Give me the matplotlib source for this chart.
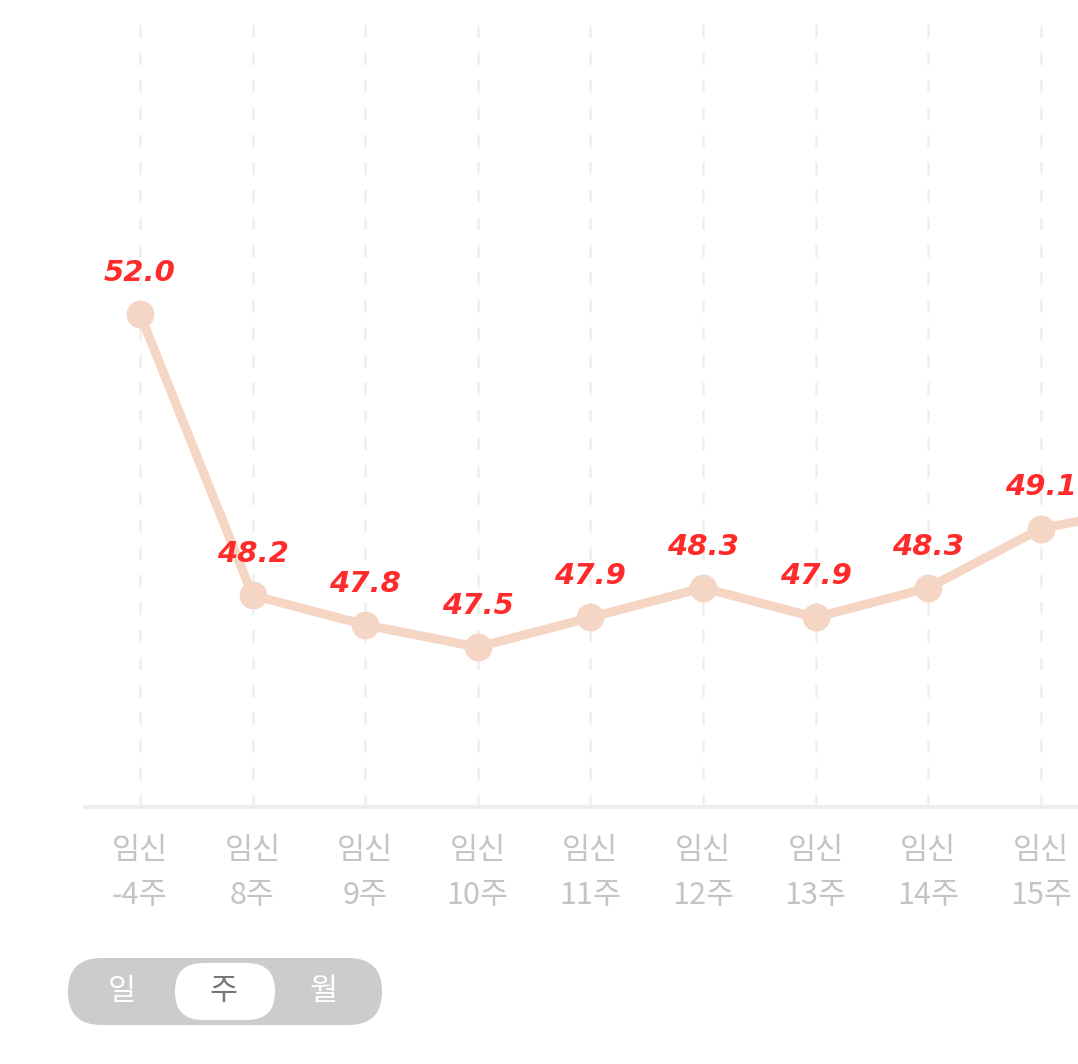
import matplotlib.pyplot as plt
from matplotlib.patches import FancyBboxPatch

plt.rcParams['font.family'] = ['Noto Sans CJK KR', 'DejaVu Sans']

weeks = ['-4주', '8주', '9주', '10주', '11주', '12주', '13주', '14주', '15주']
values = [52.0, 48.2, 47.8, 47.5, 47.9, 48.3, 47.9, 48.3, 49.1, 49.4]
shown_labels = ['52.0', '48.2', '47.8', '47.5', '47.9', '48.3', '47.9', '48.3', '49.1', '']

W, H = 1078, 1064
fig = plt.figure(figsize=(W / 100, H / 100), dpi=100)
ax = fig.add_axes([85 / W, (H - 807) / H, (W - 85) / W, (807 - 20) / H])

x = list(range(len(values)))
ax.plot(x, values, color='#f5d5c4', lw=6.5, marker='o', ms=19, zorder=3, clip_on=True)
for i, (v, t) in enumerate(zip(values, shown_labels)):
    if t:
        ax.annotate(t, (i, v), xytext=(0, 24), textcoords='offset points', ha='center',
                    color='#ff2a2a', fontsize=21, fontweight='bold', fontstyle='italic',
                    family='DejaVu Sans')

for i in range(len(weeks)):
    ax.axvline(i, color='#eeeeee', lw=1.8, ls=(0, (5, 6)), ymax=1, zorder=1)

ax.set_xticks(range(len(weeks)))
ax.set_xticklabels(['임신\n' + w for w in weeks], color='#c4c4c4', fontsize=22, linespacing=1.6)
ax.tick_params(axis='x', length=0, pad=20)
ax.set_xlim(-0.488, 8.33)
ax.set_ylim(45.34, 55.97)
ax.set_yticks([])
for s in ['top', 'right', 'left']:
    ax.spines[s].set_visible(False)
ax.spines['bottom'].set_color('#eeeeee')
ax.spines['bottom'].set_linewidth(3)

# period toggle
def fx(px):
    return px / W

def fy(py):
    return 1 - py / H

fig.patches.append(FancyBboxPatch((fx(68), fy(1025)), fx(382) - fx(68), fy(958) - fy(1025),
                                  boxstyle='round,pad=0,rounding_size=0.031', transform=fig.transFigure,
                                  fc='#cccccc', ec='none', mutation_aspect=1))
fig.patches.append(FancyBboxPatch((fx(175), fy(1020)), fx(275) - fx(175), fy(963) - fy(1020),
                                  boxstyle='round,pad=0,rounding_size=0.026', transform=fig.transFigure,
                                  fc='white', ec='none', mutation_aspect=1))
for px, t, c in [(122, '일', 'white'), (224, '주', '#777777'), (324, '월', 'white')]:
    fig.text(fx(px), fy(991), t, ha='center', va='center', fontsize=22, color=c)

fig.savefig('out.png', dpi=100)
